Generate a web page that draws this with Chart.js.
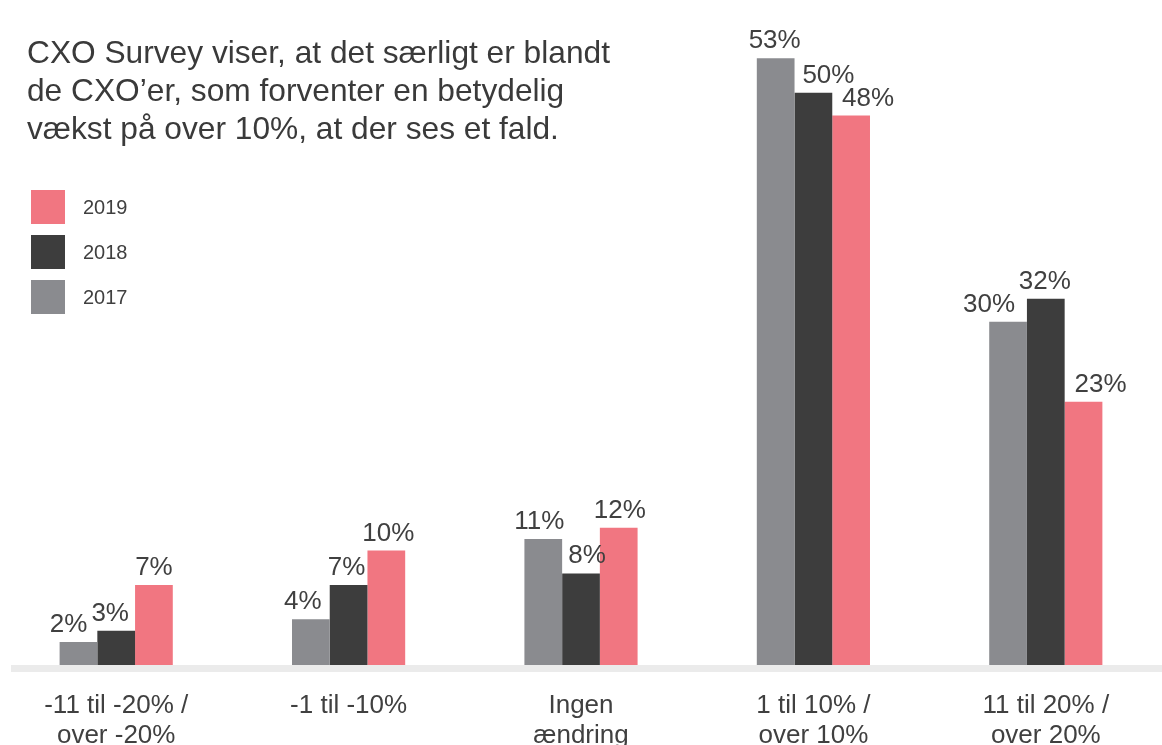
<!DOCTYPE html>
<html>
<head>
<meta charset="utf-8">
<script src="https://cdn.jsdelivr.net/npm/chart.js@4"></script>
<style>
  body { margin: 0; background: #fff; overflow: hidden; }
  #wrap { position: relative; width: 1162px; height: 745px; }
  #intro {
    position: absolute; left: 27px; top: 33px; margin: 0;
    font: 31.7px/38px "Liberation Sans", Arial, sans-serif; color: #3a3a3a;
  }
  #legend { position: absolute; left: 31px; top: 190px; }
  .item { display: flex; align-items: center; height: 34px; margin-bottom: 11px;
    font: 20px "Liberation Sans", Arial, sans-serif; color: #404040; }
  .swatch { width: 34px; height: 34px; margin-right: 18px; }
</style>
</head>
<body>
<div id="wrap">
  <canvas id="growthChart" width="1162" height="745"></canvas>
  <p id="intro">CXO Survey viser, at det særligt er blandt<br>de CXO’er, som forventer en betydelig<br>vækst på over 10%, at der ses et fald.</p>
  <div id="legend"></div>
</div>
<script>
// categories (x axis)
const categories = [
  ['-11 til -20% /', 'over -20%'],
  ['-1 til -10%'],
  ['Ingen', 'ændring'],
  ['1 til 10% /', 'over 10%'],
  ['11 til 20% /', 'over 20%']
];

// share of respondents in %
const years = ['2017', '2018', '2019'];
const values2017 = [2, 4, 11, 53, 30];
const values2018 = [3, 7, 8, 50, 32];
const values2019 = [7, 10, 12, 48, 23];

const colGray = '#8a8b8f';
const colDark = '#3d3d3d';
const colPink = '#f17681';
const textCol = '#404040';

// small hand nudges for the value labels, like the original layout (px)
const nudgeX = [[-10, -8, -4, -1, -19], [-6, -2, 6, 15, -1], [0, 2, 1, 17, 17]];

// value labels above each bar
const valueLabels = {
    id: 'valueLabels',
    afterDatasetsDraw(chart) {
        const ctx = chart.ctx;
        ctx.save();
        ctx.font = '26px "Liberation Sans", Arial, sans-serif';
        ctx.fillStyle = textCol;
        ctx.textAlign = 'center';
        ctx.textBaseline = 'alphabetic';
        chart.data.datasets.forEach(function (ds, i) {
            chart.getDatasetMeta(i).data.forEach(function (bar, j) {
                ctx.fillText(ds.data[j] + '%', bar.x + nudgeX[i][j], bar.y - 10);
            });
        });
        ctx.restore();
    }
};

// thick light base line under the bars
const baseLine = {
    id: 'baseLine',
    beforeDatasetsDraw(chart) {
        const a = chart.chartArea;
        chart.ctx.save();
        chart.ctx.fillStyle = '#ebebeb';
        chart.ctx.fillRect(a.left + 11, a.bottom, a.right - a.left - 11, 7);
        chart.ctx.restore();
    }
};

const chart = new Chart(document.getElementById('growthChart'), {
    type: 'bar',
    data: {
        labels: categories,
        datasets: [
            { label: years[0], data: values2017, backgroundColor: colGray },
            { label: years[1], data: values2018, backgroundColor: colDark },
            { label: years[2], data: values2019, backgroundColor: colPink }
        ]
    },
    options: {
        responsive: false,
        animation: false,
        layout: { padding: 0 },
        datasets: { bar: { categoryPercentage: 0.487, barPercentage: 1 } },
        plugins: { legend: { display: false }, tooltip: { enabled: false } },
        scales: {
            x: {
                grid: { display: false, drawTicks: false },
                border: { display: false },
                afterFit: function (scale) { scale.height = 80; },
                ticks: {
                    color: textCol,
                    padding: 26,
                    maxRotation: 0,
                    font: { family: '"Liberation Sans", Arial, sans-serif', size: 26, lineHeight: 1.15 }
                }
            },
            y: { display: false, min: 0, max: 58.1 }
        }
    },
    plugins: [baseLine, valueLabels]
});

// legend, newest year first
const legendEl = document.getElementById('legend');
chart.data.datasets.slice().reverse().forEach(function (ds) {
    const row = document.createElement('div');
    row.className = 'item';
    row.innerHTML = '<span class="swatch" style="background:' + ds.backgroundColor + '"></span>' + ds.label;
    legendEl.appendChild(row);
});
</script>
</body>
</html>
